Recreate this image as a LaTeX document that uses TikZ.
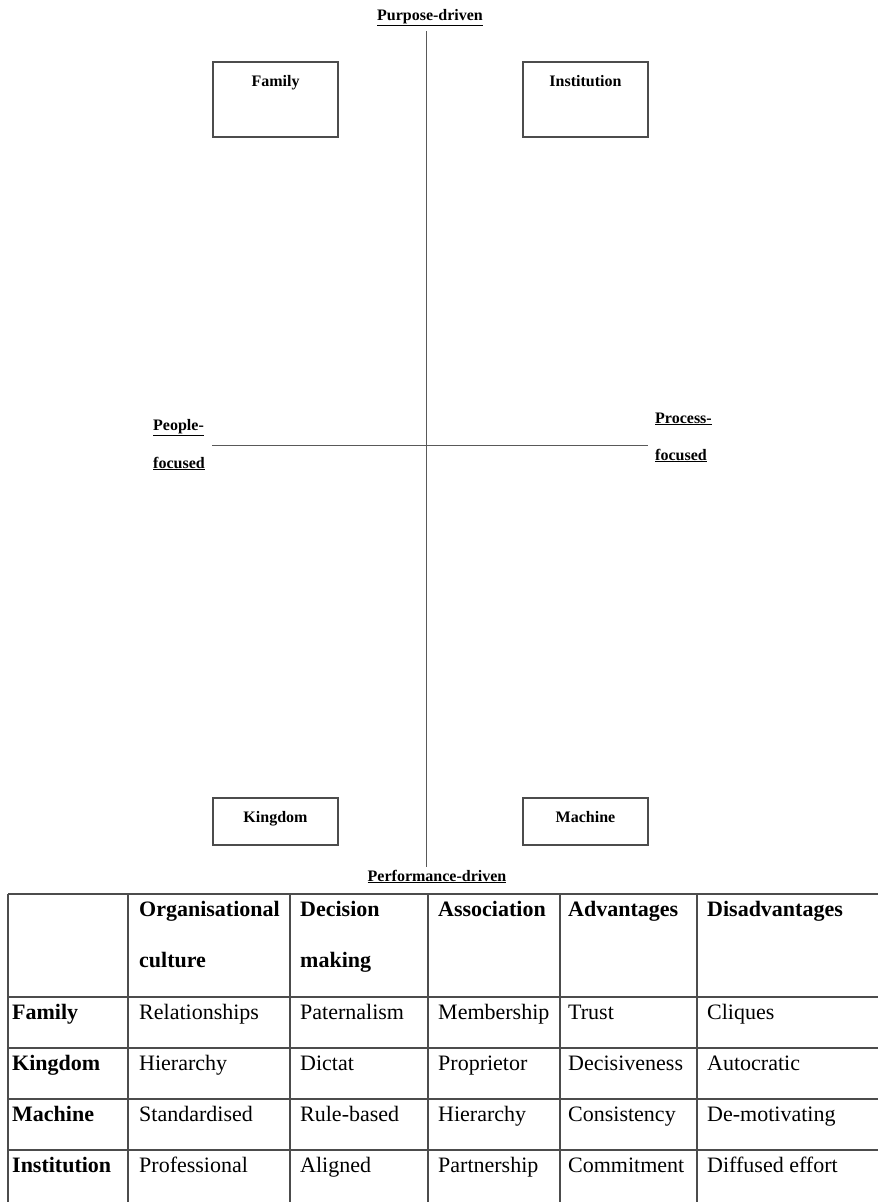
\documentclass[tikz,border=0pt]{standalone}
\usepackage{fontspec}
\setmainfont{Liberation Serif}
\begin{document}
\begin{tikzpicture}[x=1pt,y=-1pt]
      \tikzstyle{quad}=[draw=black!70,line width=1.2pt,minimum width=125pt,inner sep=0pt]
      \tikzstyle{axis}=[draw=black!65,line width=1pt]
      \tikzstyle{word}=[font=\fontsize{16}{19}\selectfont\bfseries,inner sep=0pt,anchor=base]
      \tikzstyle{side}=[word,anchor=base west]
      \tikzstyle{grid}=[draw=black!70,line width=1.2pt]
      \tikzstyle{head}=[font=\fontsize{22}{26}\selectfont\bfseries,inner sep=0pt,anchor=base west]
      \tikzstyle{cell}=[font=\fontsize{22}{26}\selectfont,inner sep=0pt,anchor=base west]
      \useasboundingbox (0,0) rectangle (878,1202);
      % quadrant boxes
      \node[quad,minimum height=75pt] (family) at (275.5,99.5) {};
      \node[quad,minimum height=75pt] (institution) at (585.5,99.5) {};
      \node[quad,minimum height=47pt] (kingdom) at (275.5,821.5) {};
      \node[quad,minimum height=47pt] (machine) at (585.5,821.5) {};
      \node[word] (famtext) at (275.5,86) {Family};
      \node[word] (insttext) at (585.5,86) {Institution};
      \node[word] (kingtext) at (275.5,822) {Kingdom};
      \node[word] (machtext) at (585.5,822) {Machine};
      % axes
      \node[word] (purpose) at (430,20) {\underline{Purpose-driven}};
      \node[word] (performance) at (437,881) {\underline{Performance-driven}};
      \node[side] (people) at (153,430) {\underline{People-}};
      \node[side] (peoplefoc) at (153,468) {\underline{focused}};
      \node[side] (process) at (655,423) {\underline{Process-}};
      \node[side] (processfoc) at (655,460) {\underline{focused}};
      \coordinate (ptop) at (426,31);
      \coordinate (pbot) at (426,867);
      \coordinate (pleft) at (212,445);
      \coordinate (pright) at (648,445);
      \path[axis] (ptop) -- (pbot);
      \path[axis] (pleft) -- (pright);
      % table
      \foreach \y in {894,997,1048,1099,1150}
        \path[grid] (8,\y) -- (878,\y);
      \foreach \x in {8,128,290,428,560,697}
        \path[grid] (\x,894) -- (\x,1202);
      \foreach \x/\t [count=\i] in {139/Organisational,300/Decision,438/Association,568/Advantages,707/Disadvantages}
        \node[head] (h\i) at (\x,916) {\t};
      \node[head] (h1b) at (139,967) {culture};
      \node[head] (h2b) at (300,967) {making};
      \foreach \y/\n/\a/\b/\c/\d/\e [count=\r] in {
          1019/Family/Relationships/Paternalism/Membership/Trust/Cliques,
          1070/Kingdom/Hierarchy/Dictat/Proprietor/Decisiveness/Autocratic,
          1121/Machine/Standardised/Rule-based/Hierarchy/Consistency/De-motivating,
          1172/Institution/Professional/Aligned/Partnership/Commitment/Diffused effort} {
        \node[head] (r\r-0) at (12,\y) {\n};
        \node[cell] (r\r-1) at (139,\y) {\a};
        \node[cell] (r\r-2) at (300,\y) {\b};
        \node[cell] (r\r-3) at (438,\y) {\c};
        \node[cell] (r\r-4) at (568,\y) {\d};
        \node[cell] (r\r-5) at (707,\y) {\e};
      }
    \end{tikzpicture}
\end{document}
